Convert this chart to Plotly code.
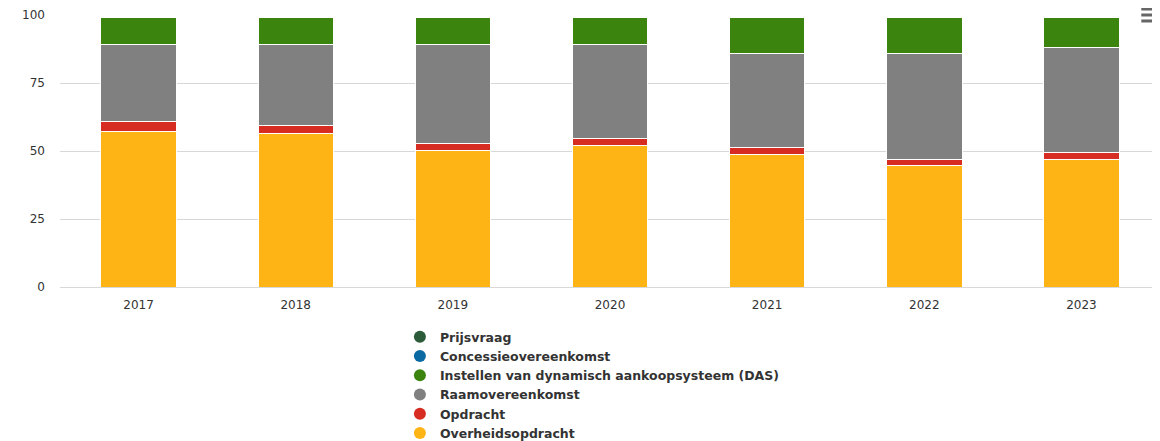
import plotly.graph_objects as go

years = ["2017", "2018", "2019", "2020", "2021", "2022", "2023"]
overheidsopdracht = [57.0, 56.6, 50.2, 51.9, 48.8, 44.5, 47.0]
opdracht = [4.0, 2.7, 2.6, 2.6, 2.4, 2.5, 2.3]
raamovereenkomst = [28.1, 29.8, 36.3, 34.6, 34.8, 39.0, 38.8]
das = [9.8, 9.8, 9.8, 9.8, 12.9, 12.9, 10.8]
concessie = [0, 0, 0, 0, 0, 0, 0]
prijsvraag = [0, 0, 0, 0, 0, 0, 0]
y_ticks = [0, 25, 50, 75, 100]

series = [
    ("Overheidsopdracht", overheidsopdracht, "#feb414"),
    ("Opdracht", opdracht, "#d72c21"),
    ("Raamovereenkomst", raamovereenkomst, "#808080"),
    ("Instellen van dynamisch aankoopsysteem (DAS)", das, "#3b850f"),
    ("Concessieovereenkomst", concessie, "#0a6aa1"),
    ("Prijsvraag", prijsvraag, "#2b5b39"),
]

fig = go.Figure()
for name, vals, color in series:
    fig.add_trace(go.Bar(
        x=years, y=vals, name=name, showlegend=False,
        marker=dict(color=color, line=dict(color="white", width=1)),
    ))

# legend entries with circle symbols (top to bottom as in reference)
for name, vals, color in reversed(series):
    fig.add_trace(go.Scatter(
        x=[None], y=[None], mode="markers", name=name,
        marker=dict(symbol="circle", size=14, color=color),
        showlegend=True,
    ))

fig.update_layout(
    width=1152, height=433,
    margin=dict(l=52, r=0, t=7, b=154, autoexpand=False),
    barmode="stack", bargap=0.52,
    plot_bgcolor="white", paper_bgcolor="white",
    font=dict(family="DejaVu Sans", size=12, color="#333333"),
    legend=dict(
        orientation="v", x=0.309, xanchor="left", y=-0.129, yanchor="top",
        traceorder="normal",
        font=dict(family="DejaVu Sans", size=12.5, color="#333333", weight="bold"),
        itemsizing="constant", tracegroupgap=0,
        bgcolor="rgba(0,0,0,0)",
    ),
    xaxis=dict(
        type="category", showgrid=False, showline=True, linecolor="#d8d8d8",
        linewidth=1, ticks="", ticklabelstandoff=7,
        tickfont=dict(size=12, color="#333333"),
    ),
    yaxis=dict(
        range=[0, 100], tickvals=y_ticks, showgrid=True, gridcolor="#d8d8d8",
        gridwidth=1, zeroline=False, ticks="", ticklabelstandoff=14,
        tickfont=dict(size=12, color="#333333"),
    ),
    shapes=[
        dict(type="line", xref="paper", yref="paper", x0=0.983, x1=1.0,
             y0=yy, y1=yy, line=dict(color="#666666", width=3))
        for yy in (1.022, 1.0, 0.978)
    ],
)

fig.write_html("out.html")
